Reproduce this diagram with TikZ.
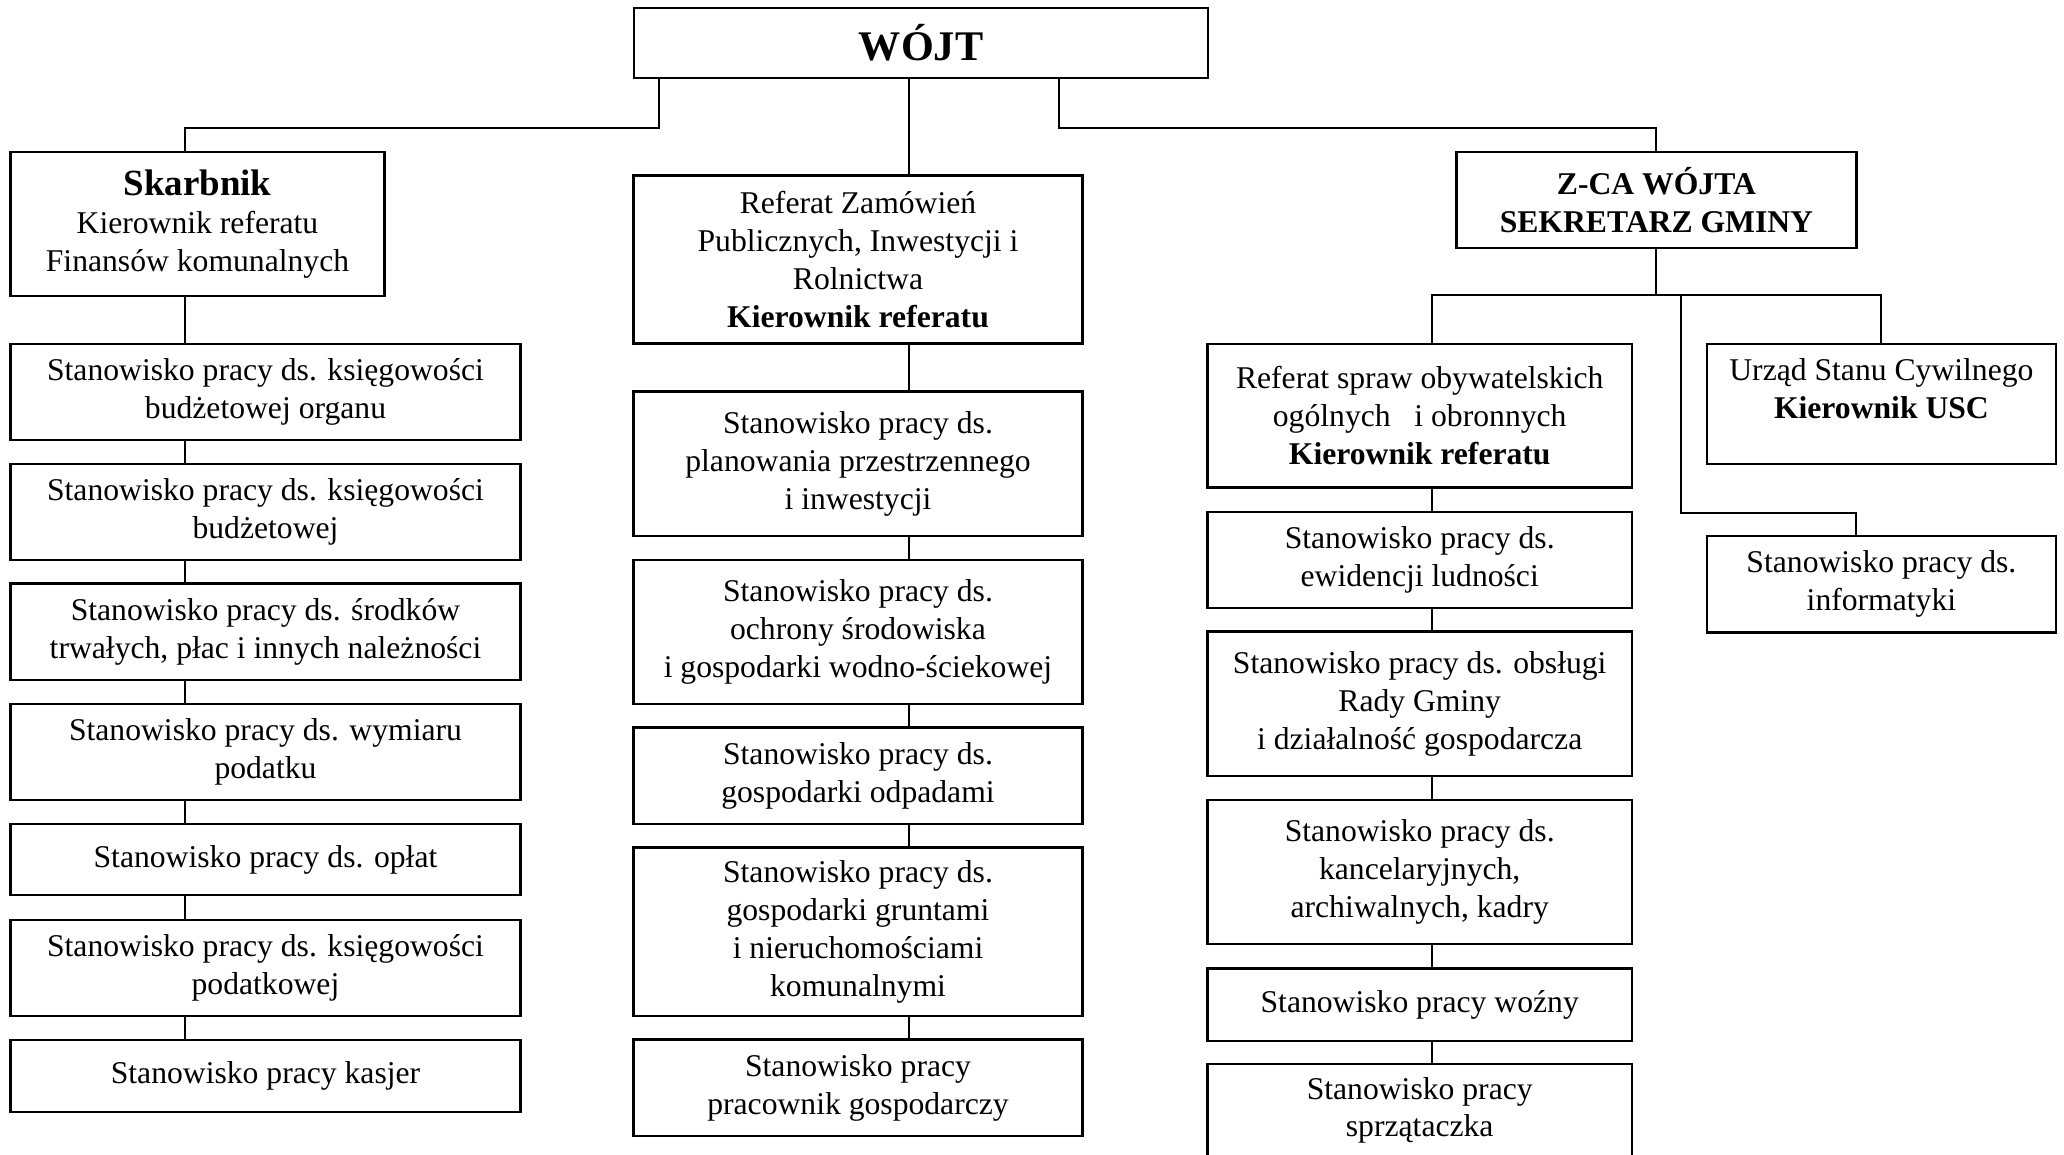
\documentclass[tikz,border=0pt]{standalone}
\usepackage{fontspec}
\setmainfont{Liberation Serif}
\usetikzlibrary{positioning}

\begin{document}
\begin{tikzpicture}[x=0.01cm,y=-0.01cm,
    box/.style={rectangle,draw,line width=0.7pt,align=center,inner sep=0pt,font=\fontsize{9}{10.8}\selectfont},
    lbox/.style={box,minimum width=5.1cm},
    mbox/.style={box,minimum width=4.49cm},
    rbox/.style={box,minimum width=4.24cm},
    link/.style={line width=0.6pt}]
    \useasboundingbox (0,0) rectangle (2064,1154);
    \clip (0,0) rectangle (2064,1154);

    % Wojt
    \node[box,minimum width=5.74cm,minimum height=0.70cm,font=\fontsize{12}{14}\selectfont\bfseries] (wojt) at (921,43) {WÓJT};

    % Kierownictwo
    \node[box,minimum width=3.74cm,minimum height=1.44cm] (skarb) at (197.5,224) {{\fontsize{10.5}{12}\selectfont\bfseries Skarbnik}\\Kierownik referatu\\Finansów komunalnych};
    \node[mbox,minimum height=1.676cm] (rzp) at (858,259.5) {Referat Zamówień\\Publicznych, Inwestycji i\\Rolnictwa\\\textbf{Kierownik referatu}};
    \node[box,minimum width=4.0cm,minimum height=0.96cm,font=\fontsize{9}{10.8}\selectfont\bfseries] (zca) at (1656.4,200) {Z-CA WÓJTA\\SEKRETARZ GMINY};

    % Kolumna lewa
    \node[lbox,minimum height=0.96cm] (l1) at (265.5,392) {Stanowisko pracy ds. księgowości\\budżetowej organu};
    \node[lbox,minimum height=0.96cm] (l2) at (265.5,512) {Stanowisko pracy ds. księgowości\\budżetowej};
    \node[lbox,minimum height=0.967cm] (l3) at (265.5,631.7) {Stanowisko pracy ds. środków\\trwałych, płac i innych należności};
    \node[lbox,minimum height=0.96cm] (l4) at (265.5,752) {Stanowisko pracy ds. wymiaru\\podatku};
    \node[lbox,minimum height=0.71cm] (l5) at (265.5,859.5) {Stanowisko pracy ds. opłat};
    \node[lbox,minimum height=0.96cm] (l6) at (265.5,968) {Stanowisko pracy ds. księgowości\\podatkowej};
    \node[lbox,minimum height=0.72cm] (l7) at (265.5,1076) {Stanowisko pracy kasjer};

    % Kolumna srodkowa
    \node[mbox,minimum height=1.443cm] (m1) at (858,463.8) {Stanowisko pracy ds.\\planowania przestrzennego\\i inwestycji};
    \node[mbox,minimum height=1.44cm] (m2) at (858,632) {Stanowisko pracy ds.\\ochrony środowiska\\i gospodarki wodno-ściekowej};
    \node[mbox,minimum height=0.967cm] (m3) at (858,775.7) {Stanowisko pracy ds.\\gospodarki odpadami};
    \node[mbox,minimum height=1.687cm] (m4) at (858,931.7) {Stanowisko pracy ds.\\gospodarki gruntami\\i nieruchomościami\\komunalnymi};
    \node[mbox,minimum height=0.967cm] (m5) at (858,1087.7) {Stanowisko pracy\\pracownik gospodarczy};

    % Kolumna prawa
    \node[rbox,minimum height=1.437cm] (rso) at (1419.7,415.8) {Referat spraw obywatelskich\\ogólnych\ \ \ i obronnych\\\textbf{Kierownik referatu}};
    \node[rbox,minimum height=0.96cm] (r1) at (1419.7,560) {Stanowisko pracy ds.\\ewidencji ludności};
    \node[rbox,minimum height=1.44cm] (r2) at (1419.7,703.7) {Stanowisko pracy ds. obsługi\\Rady Gminy\\i działalność gospodarcza};
    \node[rbox,minimum height=1.44cm] (r3) at (1419.7,872) {Stanowisko pracy ds.\\kancelaryjnych,\\archiwalnych, kadry};
    \node[rbox,minimum height=0.724cm] (r4) at (1419.7,1004.5) {Stanowisko pracy woźny};
    \node[rbox,minimum height=0.96cm,text depth=0.1cm] (r5) at (1419.7,1112) {Stanowisko pracy\\sprzątaczka};

    \node[box,minimum width=3.49cm,minimum height=1.2cm,text depth=0.3cm] (usc) at (1881.4,404) {Urząd Stanu Cywilnego\\\textbf{Kierownik USC}};
    \node[box,minimum width=3.49cm,minimum height=0.967cm] (inf) at (1881.4,584.3) {Stanowisko pracy ds.\\informatyki};

    % Osie kolumn
    \coordinate (lcol) at (185,0);
    \coordinate (mcol) at (909,0);
    \coordinate (rcol) at (1432,0);

    % Polaczenia od wojta
    \draw[link] (wojt.south -| 659,0) |- (185,127.7) -- (skarb.north -| lcol);
    \draw[link] (wojt.south -| mcol) -- (rzp.north -| mcol);
    \draw[link] (wojt.south -| 1058.6,0) |- (1656.4,127.7) -- (zca.north);

    % Polaczenia od zastepcy
    \draw[link] (zca.south) -- (1656.4,295.3);
    \draw[link] (rso.north -| rcol) |- (1881.4,295.3) -- (usc.north);
    \draw[link] (1681,295.3) |- (1855.6,512.7) -- (inf.north -| 1855.6,0);

    % Kolumny
    \draw[link] (skarb.south -| lcol) -- (l1.north -| lcol);
    \foreach \a/\b in {l1/l2,l2/l3,l3/l4,l4/l5,l5/l6,l6/l7}
        \draw[link] (\a.south -| lcol) -- (\b.north -| lcol);
    \foreach \a/\b in {rzp/m1,m1/m2,m2/m3,m3/m4,m4/m5}
        \draw[link] (\a.south -| mcol) -- (\b.north -| mcol);
    \foreach \a/\b in {rso/r1,r1/r2,r2/r3,r3/r4,r4/r5}
        \draw[link] (\a.south -| rcol) -- (\b.north -| rcol);
\end{tikzpicture}
\end{document}
